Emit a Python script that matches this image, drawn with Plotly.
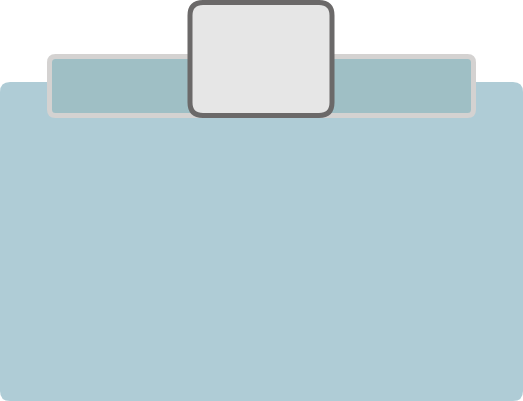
import plotly.graph_objects as go

# Shape geometry (x0, y0, x1, y1, corner radius) in pixel-like data units
base_box = [0, 82, 523, 401, 10]
band_box = [49.5, 56.5, 473.5, 115.5, 6]
card_box = [190, 2.5, 332, 115.5, 13]

base_fill = "#AFCCD6"
band_fill = "#9FBFC5"
band_line = "#D4D2D1"
card_fill = "#E6E6E6"
card_line = "#6B6969"


def rounded(x0, y0, x1, y1, r):
    return (f"M {x0+r},{y0} L {x1-r},{y0} Q {x1},{y0} {x1},{y0+r} "
            f"L {x1},{y1-r} Q {x1},{y1} {x1-r},{y1} "
            f"L {x0+r},{y1} Q {x0},{y1} {x0},{y1-r} "
            f"L {x0},{y0+r} Q {x0},{y0} {x0+r},{y0} Z")


fig = go.Figure()
fig.add_trace(go.Scatter(x=[0, 523], y=[0, 401], mode="markers",
                         marker=dict(opacity=0), hoverinfo="skip", showlegend=False))

fig.add_shape(type="path", path=rounded(*base_box), fillcolor=base_fill,
              line=dict(width=0), layer="below")
fig.add_shape(type="path", path=rounded(*band_box), fillcolor=band_fill,
              line=dict(color=band_line, width=5))
fig.add_shape(type="path", path=rounded(*card_box), fillcolor=card_fill,
              line=dict(color=card_line, width=5))

fig.update_layout(
    width=523, height=401,
    margin=dict(l=0, r=0, t=0, b=0),
    paper_bgcolor="white", plot_bgcolor="white",
    xaxis=dict(range=[0, 523], visible=False, fixedrange=True),
    yaxis=dict(range=[401, 0], visible=False, fixedrange=True),
    showlegend=False,
)

fig.write_html("out.html", config={"displayModeBar": False},
               post_script="document.body.style.margin='0';document.body.style.overflow='hidden';")
